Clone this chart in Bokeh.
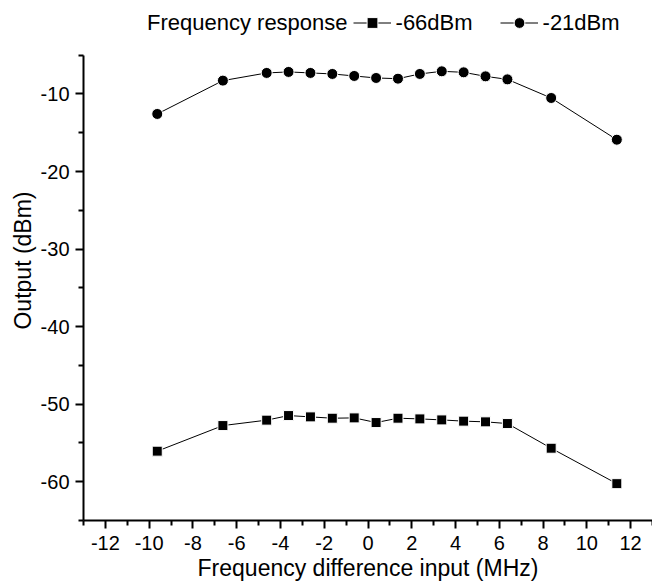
from bokeh.plotting import figure
from bokeh.models import FixedTicker, Legend, LegendItem, Range1d
from bokeh.embed import file_html
from bokeh.resources import INLINE

# Data
freq = [-9.63, -6.63, -4.63, -3.63, -2.63, -1.63, -0.63, 0.37,
        1.37, 2.37, 3.37, 4.37, 5.37, 6.37, 8.37, 11.37]
out_m66 = [-56.06, -52.76, -52.06, -51.47, -51.64, -51.81, -51.77, -52.37,
           -51.81, -51.90, -52.03, -52.19, -52.28, -52.50, -55.68, -60.25]
out_m21 = [-12.58, -8.28, -7.29, -7.16, -7.29, -7.42, -7.68, -7.94,
           -8.03, -7.42, -7.08, -7.21, -7.73, -8.12, -10.52, -15.90]

x_major = list(range(-12, 13, 2))
x_minor = list(range(-13, 14, 2))
y_major = [-60, -50, -40, -30, -20, -10]
y_minor = [-65, -55, -45, -35, -25, -15, -5]
y_axis_span = (-65, -5)

legend_title = "Frequency response"
series_labels = ["-66dBm", "-21dBm"]

FONT = "Liberation Sans"

# frame reaches the top of the canvas so the legend can sit inside it;
# the y axis itself is bounded to -65..-5
p = figure(width=652, height=585, output_backend="svg", toolbar_location=None,
           x_range=Range1d(-13, 13), y_range=Range1d(-65, 2.05),
           min_border_left=83, min_border_right=0, min_border_top=0,
           min_border_bottom=65)
p.xgrid.visible = False
p.ygrid.visible = False
p.outline_line_color = None
p.background_fill_color = "white"
p.border_fill_color = "white"

for ax in (p.xaxis[0], p.yaxis[0]):
    ax.axis_line_width = 2
    ax.axis_line_color = "black"
    ax.major_tick_line_width = 2
    ax.minor_tick_line_width = 2
    ax.major_tick_line_color = "black"
    ax.minor_tick_line_color = "black"
    ax.major_tick_out = 8
    ax.major_tick_in = 0
    ax.minor_tick_out = 5
    ax.minor_tick_in = 0
    ax.major_label_text_font = FONT
    ax.major_label_text_font_size = "20px"
    ax.major_label_text_color = "black"
    ax.axis_label_text_font = FONT
    ax.axis_label_text_font_size = "23px"
    ax.axis_label_text_font_style = "normal"
    ax.axis_label_text_color = "black"

p.xaxis[0].ticker = FixedTicker(ticks=x_major, minor_ticks=x_minor)
p.yaxis[0].ticker = FixedTicker(ticks=y_major, minor_ticks=y_minor)
p.yaxis[0].bounds = y_axis_span
p.xaxis[0].major_label_overrides = {t: str(t) for t in x_major}
p.yaxis[0].major_label_overrides = {t: str(t) for t in y_major}
p.xaxis[0].axis_label = "Frequency difference input (MHz)"
p.yaxis[0].axis_label = "Output (dBm)"
p.xaxis[0].major_label_standoff = 7
p.xaxis[0].axis_label_standoff = 2
p.yaxis[0].major_label_standoff = 6
p.yaxis[0].axis_label_standoff = 2

l66 = p.line(freq, out_m66, line_color="black", line_width=1)
s66 = p.scatter(freq, out_m66, marker="square", size=10, fill_color="black",
                line_color="white", line_width=1)
l21 = p.line(freq, out_m21, line_color="black", line_width=1)
s21 = p.scatter(freq, out_m21, marker="circle", size=11, fill_color="black",
                line_color="white", line_width=1)
dummy = p.scatter([0], [-100], marker="circle", size=1, alpha=0)

legend = Legend(
    items=[LegendItem(label=legend_title, renderers=[dummy]),
           LegendItem(label=series_labels[0], renderers=[l66, s66]),
           LegendItem(label=series_labels[1], renderers=[l21, s21])],
    orientation="horizontal", location=(21, 484),
    border_line_color=None, background_fill_alpha=0,
    glyph_width=38, glyph_height=27, label_standoff=5, spacing=5,
    label_width=99, padding=0, margin=0,
    label_text_font=FONT, label_text_font_size="22px", label_text_color="black")
p.add_layout(legend, "center")

open("out.html", "w").write(file_html(p, INLINE))
